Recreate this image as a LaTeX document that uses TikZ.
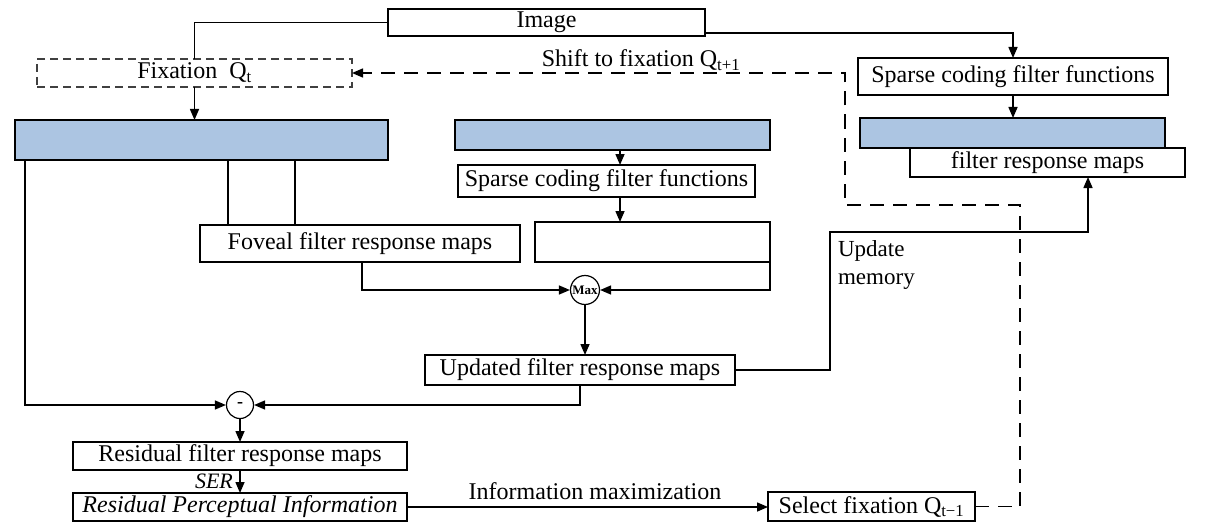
\documentclass[tikz,border=0pt]{standalone}
\usepackage{fontspec}
\setmainfont{Liberation Serif}
\usetikzlibrary{arrows.meta,calc}
\definecolor{boxblue}{RGB}{172,197,226}
\begin{document}
\begin{tikzpicture}[x=1pt,y=-1pt,
  line width=1.5pt,
  >={Triangle[length=11pt,width=9pt]},
  txt/.style={font=\fontsize{24}{27}\selectfont},
  box/.style={draw, txt, inner sep=0pt, outer sep=0pt},
  bluebox/.style={draw, fill=boxblue, inner sep=0pt, outer sep=0pt},
  opnode/.style={draw, circle, inner sep=0pt, line width=1.2pt, font=\bfseries\fontsize{13}{13}\selectfont},
  shiftlink/.style={draw, ->, dash pattern=on 14pt off 9pt}]
\useasboundingbox (0,0) rectangle (1206,524);

% boxes
\node[box, minimum width=317pt, minimum height=27pt] (img) at (546.5,22.5) {Image};
\node[box, dash pattern=on 8pt off 5pt, draw=black!75, minimum width=315pt, minimum height=28pt] (fix) at (194.5,73) {Fixation\ \ Q\textsubscript{t}};
\node[box, minimum width=310pt, minimum height=37pt] (spR) at (1013,76.5) {Sparse coding filter functions};
\node[bluebox, minimum width=373pt, minimum height=40pt] (LB) at (201.5,140) {};
\node[bluebox, minimum width=315pt, minimum height=30pt] (MB) at (612.5,135) {};
\node[bluebox, minimum width=305pt, minimum height=30pt] (RB) at (1012.5,133) {};
\node[box, fill=white, minimum width=275pt, minimum height=29pt] (frm) at (1047.5,162.5) {filter response maps};
\node[box, minimum width=297pt, minimum height=32pt] (spM) at (606.5,181) {Sparse coding filter functions};
\node[box, minimum width=320pt, minimum height=37pt] (fov) at (360,243.5) {Foveal filter response maps};
\node[box, minimum width=235pt, minimum height=40pt] (pbox) at (652.5,242) {};
\node[opnode, minimum size=29pt] (max) at (585,290) {Max};
\node[box, minimum width=310pt, minimum height=30pt] (upd) at (580,370) {Updated filter response maps};
\node[opnode, minimum size=27pt, font=\bfseries\fontsize{18}{18}\selectfont] (minus) at (240,405) {-};
\node[box, minimum width=334pt, minimum height=28pt] (res) at (240,456) {Residual filter response maps};
\node[box, font=\itshape\fontsize{24}{27}\selectfont, minimum width=334pt, minimum height=28pt] (rpi) at (240,507) {Residual Perceptual Information};
\node[box, minimum width=207pt, minimum height=29pt] (sel) at (871.5,506.5) {Select fixation Q\textsubscript{t−1}};

% labels
\node[txt] (shiftlbl) at (641,60) {Shift to fixation Q\textsubscript{t+1}};
\node[align=left, anchor=west, font=\fontsize{23}{28}\selectfont] (updlbl) at (834,265) {Update\\memory};
\node[font=\itshape\fontsize{22}{24}\selectfont, anchor=east] (serlbl) at (237,481) {SER};
\node[txt] (infolbl) at (595,491) {Information maximization};

% helper coordinates
\coordinate (updcorner) at (830,232);
\coordinate (sh1) at (1020,205);
\coordinate (sh2) at (845,205);

% connectors
\draw (img.west) -| (fix.north);
\draw[->] ($(img.south east)+(0,-3)$) -| (spR.north);
\draw[->] (spR.south) -- (spR.south |- RB.north);
\draw[->] (fix.south) -- (fix.south |- LB.north);
\draw (LB.south -| 228,0) -- (fov.north -| 228,0);
\draw (LB.south -| 295,0) -- (fov.north -| 295,0);
\draw[->] (MB.south -| 620,0) -- (spM.north -| 620,0);
\draw[->] (spM.south -| 620,0) -- (pbox.north -| 620,0);
\draw[->] (pbox.south east) |- (max.east);
\draw[->] (fov.south -| 362,0) |- (max.west);
\draw[->] (max.south) -- (max.south |- upd.north);
\draw[->] (upd.east) -| (updcorner) -| (frm.south -| 1088,0);
\draw[->] (upd.south) |- (minus.east);
\draw[->] (LB.south -| 25,0) |- (minus.west);
\draw[->] (minus.south) -- (res.north);
\draw[->] (res.south) -- (rpi.north);
\draw[->] (rpi.east) -- (rpi.east -| sel.west);
\draw[shiftlink] (sel.east) -| (sh1) -- (sh2) |- (fix.east);
\end{tikzpicture}
\end{document}
